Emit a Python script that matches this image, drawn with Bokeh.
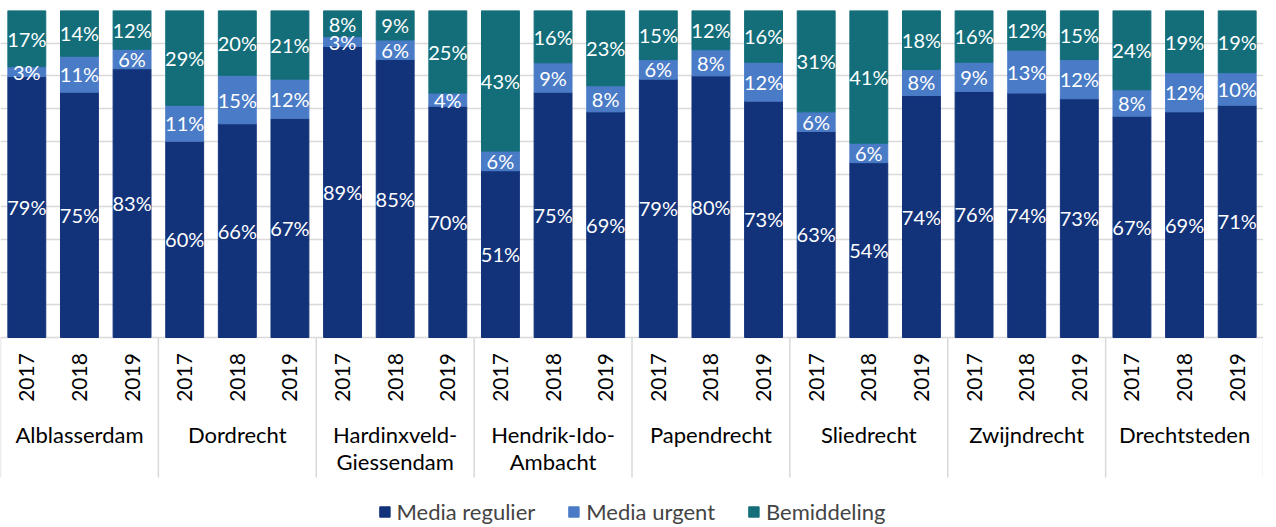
import numpy as np
from bokeh.plotting import figure
from bokeh.models import ColumnDataSource, Range1d, FixedTicker, Legend, LegendItem
from bokeh.core.properties import value
from bokeh.embed import file_html
from bokeh.resources import INLINE

groups = ["Alblasserdam", "Dordrecht", "Hardinxveld-\nGiessendam", "Hendrik-Ido-\nAmbacht",
          "Papendrecht", "Sliedrecht", "Zwijndrecht", "Drechtsteden"]
years = ["2017", "2018", "2019"]
series = ["Media regulier", "Media urgent", "Bemiddeling"]
media_regulier = [79, 75, 83, 60, 66, 67, 89, 85, 70, 51, 75, 69,
                  79, 80, 73, 63, 54, 74, 76, 74, 73, 67, 69, 71]
media_urgent = [3, 11, 6, 11, 15, 12, 3, 6, 4, 6, 9, 8,
                6, 8, 12, 6, 6, 8, 9, 13, 12, 8, 12, 10]
bemiddeling = [17, 14, 12, 29, 20, 21, 8, 9, 25, 43, 16, 23,
               15, 12, 16, 31, 41, 18, 16, 12, 15, 24, 19, 19]
colors = ["#12327A", "#4A7BC6", "#136E7A"]

FONT = "Lato"
n_years = len(years)
n = len(groups) * n_years

reg = np.array(media_regulier, float)
urg = np.array(media_urgent, float)
bem = np.array(bemiddeling, float)
tot = reg + urg + bem
fr = reg / tot
fu = urg / tot
fb = bem / tot
x = np.arange(n) + 0.5

src = ColumnDataSource(dict(x=x, reg=fr, urg=fu, bem=fb))

p = figure(width=1263, height=525, output_backend="svg", toolbar_location=None,
           x_range=Range1d(0, n), y_range=Range1d(-0.5749, 1.0),
           min_border_left=0, min_border_right=0, min_border_top=10, min_border_bottom=0)
p.axis.visible = False
p.outline_line_color = None
p.xgrid.visible = False
p.ygrid.ticker = FixedTicker(ticks=[i / 10 for i in range(11)])
p.ygrid.grid_line_color = "#D9D9D9"
p.ygrid.grid_line_width = 1.5

rs = p.vbar_stack(["reg", "urg", "bem"], x="x", width=0.72, color=colors, source=src)

# segment labels
lx, ly, lt = [], [], []
for vals, lo, hi in [(media_regulier, np.zeros(n), fr), (media_urgent, fr, fr + fu),
                     (bemiddeling, fr + fu, fr + fu + fb)]:
    for i in range(n):
        lx.append(x[i])
        ly.append((lo[i] + hi[i]) / 2)
        lt.append(f"{vals[i]}%")
p.text(x=lx, y=ly, text=lt, text_color="white", text_font=value(FONT),
       text_font_size="20px", text_align="center", text_baseline="middle")

# category axis: year labels
yx = list(x)
yt = [years[i % n_years] for i in range(n)]
p.text(x=yx, y=[-0.1223] * n, text=yt, angle=np.pi / 2, text_color="black",
       text_font=value(FONT), text_font_size="21px", text_align="center", text_baseline="middle")

# group labels
gx = [g * n_years + n_years / 2 for g in range(len(groups))]
p.text(x=gx, y=[-0.256] * len(groups), text=groups, text_color="black",
       text_font=value(FONT), text_font_size="22px", text_align="center", text_baseline="top",
       text_line_height=1.0)

# separators
sx = [g * n_years for g in range(len(groups) + 1)]
p.segment(x0=sx, y0=[0] * len(sx), x1=sx, y1=[-0.428] * len(sx),
          line_color="#D9D9D9", line_width=1.5)

legend = Legend(items=[LegendItem(label=s, renderers=[r]) for s, r in zip(series, rs)],
                location="bottom_center", orientation="horizontal")
legend.label_text_font = FONT
legend.label_text_font_size = "22px"
legend.glyph_width = 13
legend.glyph_height = 13
legend.label_standoff = 6
legend.spacing = 32
legend.padding = 0
legend.margin = 0
legend.border_line_color = None
legend.background_fill_alpha = 0
p.add_layout(legend)

open("out.html", "w").write(file_html(p, INLINE))
